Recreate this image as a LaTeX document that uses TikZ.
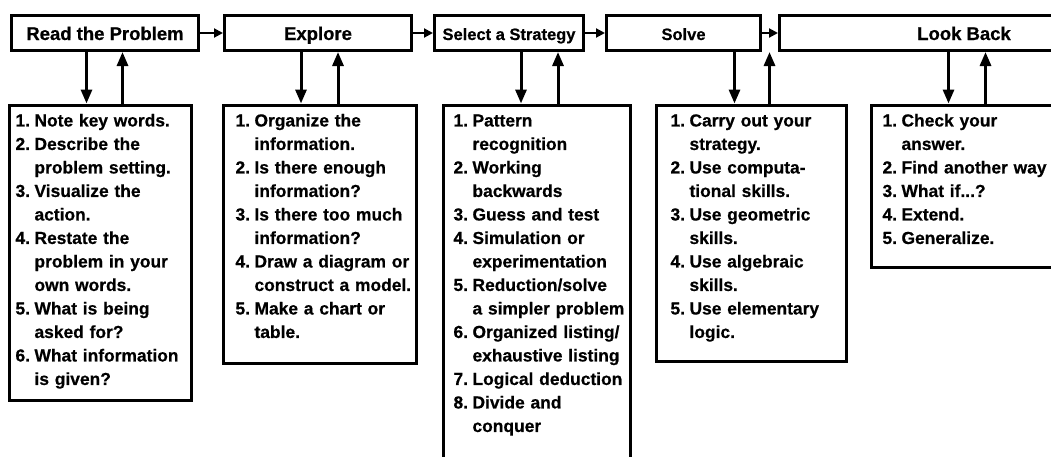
\documentclass[tikz,border=0pt]{standalone}
\usepackage{fontspec}
\setmainfont{Liberation Sans}[BoldFeatures={FakeBold=0.6}]
\usetikzlibrary{arrows.meta,positioning}

\begin{document}
\begin{tikzpicture}[
  x=1pt,y=-1pt,
  stagebox/.style={draw,line width=3pt,minimum height=35pt,inner sep=0pt,
    text height=16pt,text depth=2pt,font=\bfseries\fontsize{18.5}{20}\selectfont},
  listbox/.style={draw,line width=3pt,anchor=north west,align=left,inner ysep=5pt,
    font=\bfseries\fontsize{17.4}{23.5}\selectfont},
  arr/.style={-{Triangle[length=9pt,width=9pt]},line width=2pt},
  godown/.style={-{Triangle[length=14pt,width=11pt]},line width=3pt},
  goup/.style={{Triangle[length=14pt,width=11pt]}-,line width=3pt}
]
  \path[use as bounding box,clip] (0,0) rectangle (1051,456);

  % the five stages
  \node[stagebox,minimum width=187pt] (read) at (105,33) {Read the Problem};
  \node[stagebox,minimum width=187pt] (explore) at (318,33) {Explore};
  \node[stagebox,minimum width=149pt,font=\bfseries\fontsize{16.5}{20}\selectfont] (select) at (509,33) {Select a Strategy};
  \node[stagebox,minimum width=154pt,font=\bfseries\fontsize{16.5}{20}\selectfont] (solve) at (683.5,33) {Solve};
  \node[stagebox,minimum width=369pt] (look) at (964,33) {Look Back};

  \draw[arr] (read) -- (explore);
  \draw[arr] (explore) -- (select);
  \draw[arr] (select) -- (solve);
  \draw[arr] (solve) -- (look);

  % what to do in each stage
  \node[listbox,inner xsep=6pt,text width=170pt,text depth=269.5pt] (readlist) at (8,103.5) {%
    \begin{tabular}[t]{@{}l@{\hspace{4.5pt}}l@{}}
      1. & Note key words.\\
      2. & Describe the\\
         & problem setting.\\
      3. & Visualize the\\
         & action.\\
      4. & Restate the\\
         & problem in your\\
         & own words.\\
      5. & What is being\\
         & asked for?\\
      6. & What information\\
         & is given?
    \end{tabular}};
  \node[listbox,inner xsep=12pt,text width=169pt,text depth=232pt] (explorelist) at (222,103.5) {%
    \begin{tabular}[t]{@{}l@{\hspace{4.5pt}}l@{}}
      1. & Organize the\\
         & information.\\
      2. & Is there enough\\
         & information?\\
      3. & Is there too much\\
         & information?\\
      4. & Draw a diagram or\\
         & construct a model.\\
      5. & Make a chart or\\
         & table.
    \end{tabular}};
  \node[listbox,inner xsep=10pt,text width=167pt,text depth=380pt] (selectlist) at (442,103.5) {%
    \begin{tabular}[t]{@{}l@{\hspace{4.5pt}}l@{}}
      1. & Pattern\\
         & recognition\\
      2. & Working\\
         & backwards\\
      3. & Guess and test\\
      4. & Simulation or\\
         & experimentation\\
      5. & Reduction/solve\\
         & a simpler problem\\
      6. & Organized listing/\\
         & exhaustive listing\\
      7. & Logical deduction\\
      8. & Divide and\\
         & conquer
    \end{tabular}};
  \node[listbox,inner xsep=14pt,text width=162pt,text depth=230pt] (solvelist) at (655,103.5) {%
    \begin{tabular}[t]{@{}l@{\hspace{4.5pt}}l@{}}
      1. & Carry out your\\
         & strategy.\\
      2. & Use computa-\\
         & tional skills.\\
      3. & Use geometric\\
         & skills.\\
      4. & Use algebraic\\
         & skills.\\
      5. & Use elementary\\
         & logic.
    \end{tabular}};
  \node[listbox,inner xsep=11pt,text width=168pt,text depth=136pt] (looklist) at (870,103.5) {%
    \begin{tabular}[t]{@{}l@{\hspace{4.5pt}}l@{}}
      1. & Check your\\
         & answer.\\
      2. & Find another way\\
      3. & What if...?\\
      4. & Extend.\\
      5. & Generalize.
    \end{tabular}};

  % down and back up between stage and list
  \foreach \s/\l/\a/\b in {read/readlist/-14/22,explore/explorelist/-19/18,
      select/selectlist/-16/21,solve/solvelist/-17/18,look/looklist/-18/19} {
    \draw[godown] ([xshift=\a pt]\l.north |- \s.south) -- ([xshift=\a pt]\l.north);
    \draw[goup] ([xshift=\b pt]\l.north |- \s.south) -- ([xshift=\b pt]\l.north);
  }
\end{tikzpicture}
\end{document}
